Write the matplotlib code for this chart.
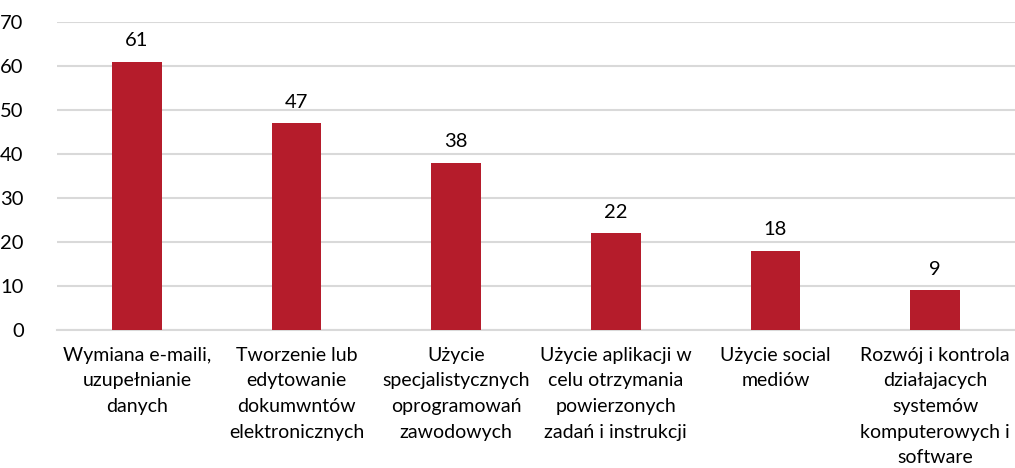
import matplotlib
matplotlib.use("Agg")
import matplotlib.pyplot as plt

# data
categories = [
    "Wymiana e-maili,\nuzupełnianie\ndanych",
    "Tworzenie lub\nedytowanie\ndokumwntów\nelektronicznych",
    "Użycie\nspecjalistycznych\noprogramowań\nzawodowych",
    "Użycie aplikacji w\ncelu otrzymania\npowierzonych\nzadań i instrukcji",
    "Użycie social\nmediów",
    "Rozwój i kontrola\ndziałajacych\nsystemów\nkomputerowych i\nsoftware",
]
values = [61, 47, 38, 22, 18, 9]
yticks = [0, 10, 20, 30, 40, 50, 60, 70]

plt.rcParams['font.family'] = ['Lato', 'DejaVu Sans']

fig = plt.figure(figsize=(10.15, 4.68), dpi=100)
ax = fig.add_axes([57 / 1015, 1 - 330 / 468, 958 / 1015, 308 / 468])

x = range(len(values))
bars = ax.bar(x, values, width=0.3125, color='#B51C2B', zorder=3)

for xi, v in zip(x, values):
    ax.annotate(str(v), (xi, v), xytext=(0, 9), textcoords='offset points',
                ha='center', va='bottom', fontsize=14.5, color='#000000')

ax.set_xlim(-0.5, len(values) - 0.5)
ax.set_ylim(0, 70)
ax.set_yticks(yticks)
ax.set_xticks(list(x))
ax.set_xticklabels(categories, fontsize=14, linespacing=1.62)
ax.tick_params(axis='y', labelsize=14.5, length=0, pad=24)
ax.tick_params(axis='x', length=0, pad=12)
for lbl in ax.get_yticklabels():
    lbl.set_horizontalalignment('right')

ax.yaxis.grid(True, color='#D9D9D9', linewidth=1.5, zorder=0)
for s in ['top', 'right', 'left']:
    ax.spines[s].set_visible(False)
ax.spines['bottom'].set_color('#D9D9D9')
ax.spines['bottom'].set_linewidth(1.5)

fig.savefig('out.png', dpi=100)
